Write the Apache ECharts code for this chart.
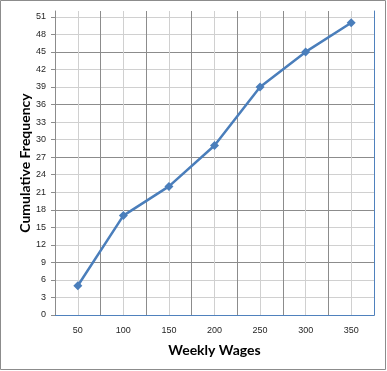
<!DOCTYPE html>
<html>
<head>
<meta charset="utf-8">
<script src="https://cdn.jsdelivr.net/npm/echarts@6/dist/echarts.min.js"></script>
<style>
html,body{margin:0;padding:0;background:#fff;}
#chart{width:387px;height:371px;}
</style>
</head>
<body>
<div id="chart"></div>
<script>
var categories = ['50', '100', '150', '200', '250', '300', '350'];
var cumFreq = [5, 17, 22, 29, 39, 45, 50];
var yTicks = [0, 3, 6, 9, 12, 15, 18, 21, 24, 27, 30, 33, 36, 39, 42, 45, 48, 51];
var xTitle = 'Weekly Wages';
var yTitle = 'Cumulative Frequency';

var chart = echarts.init(document.getElementById('chart'), null, {renderer: 'canvas'});
var labelFont = {fontFamily: 'Liberation Sans', fontSize: 9, color: '#262626'};
var titleFont = {fontFamily: 'Lato', fontSize: 14, fontWeight: 'bold', color: '#000'};
chart.setOption({
  animation: false,
  backgroundColor: '#fff',
  graphic: [{
    type: 'rect', z: -10,
    shape: {x: 0.5, y: 0.5, width: 385, height: 369},
    style: {fill: 'none', stroke: '#8c8c8c', lineWidth: 1}
  }],
  grid: {left: 55, top: 11, width: 319, height: 304, containLabel: false},
  xAxis: [{
    type: 'category',
    data: categories,
    boundaryGap: true,
    position: 'bottom',
    axisLine: {show: true, lineStyle: {color: '#8c8c8c', width: 1}},
    axisTick: {show: false},
    splitLine: {show: false},
    axisLabel: Object.assign({margin: 11}, labelFont),
    name: xTitle,
    nameLocation: 'middle',
    nameGap: 28,
    nameMoveOverlap: false,
    nameTextStyle: titleFont
  }, {
    type: 'value',
    min: 0, max: 14, interval: 1,
    position: 'top',
    axisLine: {show: true, lineStyle: {color: '#4f81bd', width: 1}},
    axisTick: {show: false},
    axisLabel: {show: false},
    splitLine: {show: true, lineStyle: {color: ['#8c8c8c', '#d0d0d0'], width: 1}}
  }],
  yAxis: [{
    type: 'value',
    min: 0, max: 52, interval: 3,
    position: 'left',
    axisLine: {show: true, lineStyle: {color: '#8c8c8c', width: 1}},
    axisTick: {show: true, length: 4, customValues: yTicks, lineStyle: {color: '#8c8c8c'}},
    axisLabel: Object.assign({margin: 9, customValues: yTicks}, labelFont),
    splitLine: {show: true, lineStyle: {color: ['#8c8c8c', '#d0d0d0', '#d0d0d0'], width: 1}},
    name: yTitle,
    nameLocation: 'middle',
    nameGap: 23,
    nameMoveOverlap: false,
    nameTextStyle: titleFont
  }, {
    type: 'value',
    min: 0, max: 52,
    position: 'right',
    axisLine: {show: true, lineStyle: {color: '#4f81bd', width: 1}},
    axisTick: {show: false},
    axisLabel: {show: false},
    splitLine: {show: false}
  }],
  series: [{
    type: 'line',
    xAxisIndex: 0,
    yAxisIndex: 0,
    data: cumFreq,
    symbol: 'diamond',
    symbolSize: 9,
    lineStyle: {color: '#4a7ebb', width: 2.5},
    itemStyle: {color: '#4a7ebb'},
    z: 10
  }]
});
</script>
</body>
</html>
